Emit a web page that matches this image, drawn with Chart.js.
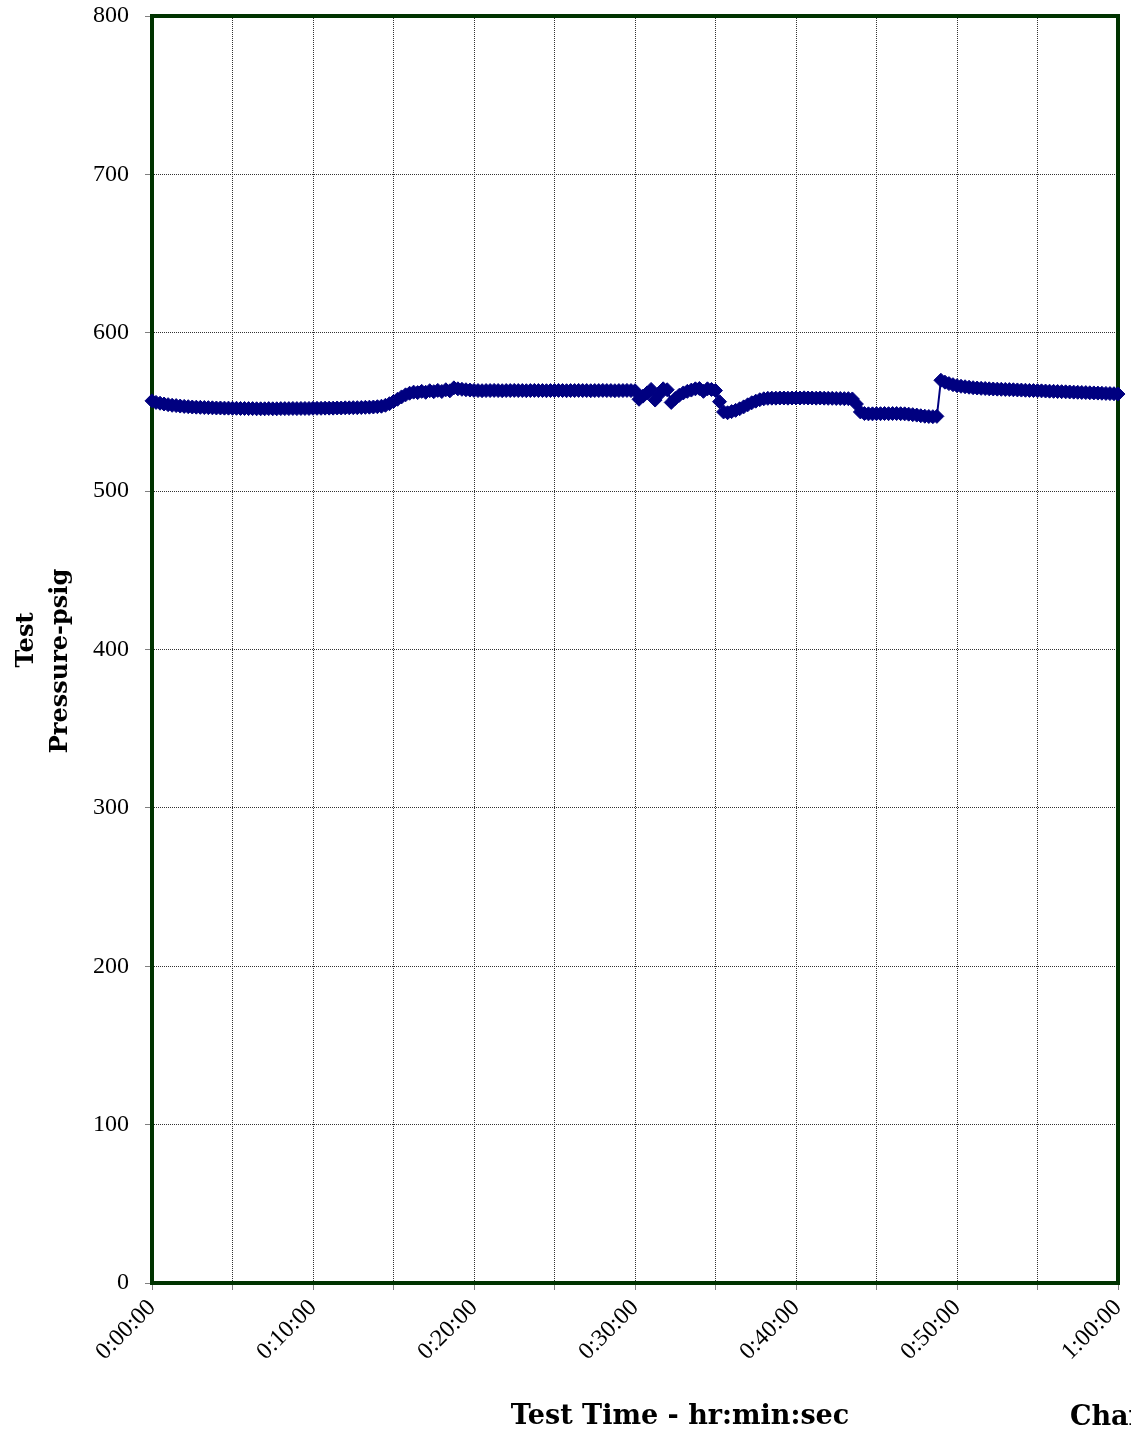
<!DOCTYPE html>
<html>
<head>
<meta charset="utf-8">
<script src="https://cdn.jsdelivr.net/npm/chart.js@4.4.1/dist/chart.umd.min.js"></script>
<style>
  html, body { margin: 0; padding: 0; background: #fff; }
  #wrap { width: 1131px; height: 1432px; }
</style>
</head>
<body>
<div id="wrap"><canvas id="chart" width="1131" height="1432"></canvas></div>
<script>
// readings taken every 15 seconds, grouped per 10 minutes of test time
const sampleInterval = 15; // seconds
const readings00 = [557.0, 556.0, 555.5, 555.0, 554.6, 554.2, 554.0, 553.7, 553.5, 553.3,
  553.1, 553.0, 552.9, 552.8, 552.7, 552.6, 552.5, 552.5, 552.4, 552.4,
  552.3, 552.3, 552.2, 552.2, 552.1, 552.1, 552.0, 552.0, 552.0, 552.1,
  552.0, 552.0, 552.1, 552.1, 552.1, 552.2, 552.1, 552.2, 552.2, 552.2];
const readings10 = [552.3, 552.3, 552.3, 552.4, 552.4, 552.4, 552.5, 552.5, 552.6, 552.6,
  552.7, 552.7, 552.8, 552.9, 553.0, 553.1, 553.3, 553.6, 554.2, 555.2,
  556.6, 558.0, 559.5, 560.8, 561.8, 562.5, 562.2, 563.0, 562.4, 563.4,
  562.8, 563.6, 562.9, 564.0, 563.3, 565.2, 564.6, 564.3, 564.0, 563.8];
const readings20 = [563.6, 563.5, 563.4, 563.5, 563.5, 563.6, 563.5, 563.4, 563.5, 563.5,
  563.6, 563.5, 563.5, 563.4, 563.5, 563.6, 563.5, 563.5, 563.4, 563.5,
  563.5, 563.6, 563.5, 563.4, 563.5, 563.5, 563.6, 563.5, 563.5, 563.4,
  563.5, 563.5, 563.6, 563.5, 563.5, 563.4, 563.5, 563.5, 563.6, 563.5];
const readings30 = [563.4, 558.0, 560.0, 562.0, 564.2, 557.5, 561.0, 564.6, 564.0, 556.0,
  558.5, 560.5, 562.0, 563.0, 563.8, 564.6, 564.8, 563.0, 564.6, 564.2,
  563.5, 556.5, 550.0, 549.5, 550.2, 551.0, 552.0, 553.2, 554.5, 555.8,
  556.8, 557.7, 558.3, 558.6, 558.7, 558.7, 558.8, 558.8, 558.7, 558.8];
const readings40 = [558.8, 558.8, 558.9, 558.8, 558.8, 558.7, 558.8, 558.7, 558.6, 558.6,
  558.5, 558.5, 558.4, 558.4, 558.2, 555.0, 550.0, 549.0, 548.8, 548.8,
  548.9, 548.9, 549.0, 548.9, 549.0, 549.0, 548.9, 548.8, 548.6, 548.3,
  548.0, 547.6, 547.3, 547.1, 547.0, 547.2, 570.0, 568.8, 567.9, 567.2];
const readings50 = [566.6, 566.2, 565.9, 565.6, 565.3, 565.1, 564.9, 564.8, 564.6, 564.5,
  564.4, 564.3, 564.2, 564.1, 564.0, 563.9, 563.8, 563.7, 563.6, 563.5,
  563.4, 563.3, 563.2, 563.1, 563.0, 562.9, 562.8, 562.7, 562.6, 562.5,
  562.4, 562.3, 562.2, 562.1, 562.0, 561.9, 561.8, 561.7, 561.6, 561.5];
const readings60 = [561.3];

const yTicks = [0, 100, 200, 300, 400, 500, 600, 700, 800];
const xLabelTimes = ['0:00:00', '0:10:00', '0:20:00', '0:30:00', '0:40:00', '0:50:00', '1:00:00'];

const xTitle = 'Test Time - hr:min:sec';
const yTitleLines = ['Test', 'Pressure-psig'];
const cornerText = 'Chart';

const pressure = [].concat(readings00, readings10, readings20, readings30, readings40, readings50, readings60);
const points = pressure.map((p, i) => ({ x: i * sampleInterval, y: p }));

const frameAndTitles = {
  id: 'frameAndTitles',
  beforeDatasetsDraw(chart) {
    const { ctx, chartArea: a } = chart;
    ctx.save();
    ctx.strokeStyle = '#003300';
    ctx.lineWidth = 4;
    ctx.strokeRect(a.left, a.top, a.right - a.left, a.bottom - a.top);
    ctx.restore();
  },
  afterDraw(chart) {
    const ctx = chart.ctx;
    ctx.save();
    ctx.fillStyle = '#000';
    ctx.font = 'bold 27px "DejaVu Serif"';
    ctx.textBaseline = 'alphabetic';
    ctx.textAlign = 'center';
    ctx.fillText(xTitle, 680, 1424);
    ctx.textAlign = 'left';
    ctx.fillText(cornerText, 1070, 1425);

    ctx.font = 'bold 24px "DejaVu Serif"';
    ctx.textAlign = 'center';
    ctx.save();
    ctx.translate(33, 640);
    ctx.rotate(-Math.PI / 2);
    ctx.fillText(yTitleLines[0], 0, 0);
    ctx.restore();
    ctx.save();
    ctx.translate(67, 661);
    ctx.rotate(-Math.PI / 2);
    ctx.fillText(yTitleLines[1], 0, 0);
    ctx.restore();
    ctx.restore();
  }
};

function fmtTime(sec) {
  const h = Math.floor(sec / 3600);
  const m = Math.floor((sec % 3600) / 60);
  const s = sec % 60;
  return h + ':' + String(m).padStart(2, '0') + ':' + String(s).padStart(2, '0');
}

const tickFont = { family: '"Liberation Serif", serif', size: 24 };

new Chart(document.getElementById('chart'), {
  type: 'line',
  data: {
    datasets: [{
      data: points,
      borderColor: '#000080',
      backgroundColor: '#000080',
      borderWidth: 2,
      pointStyle: 'rectRot',
      pointRadius: 7,
      pointBorderWidth: 1,
      pointBackgroundColor: '#000080',
      pointBorderColor: '#000080',
      tension: 0,
      clip: false
    }]
  },
  options: {
    responsive: false,
    animation: false,
    layout: { padding: { top: 16, right: 13, left: 0, bottom: 0 } },
    plugins: { legend: { display: false }, tooltip: { enabled: false } },
    scales: {
      x: {
        type: 'linear',
        min: 0,
        max: 3600,
        afterFit(scale) {
          scale.height = 149;
          scale.paddingLeft = 0;
          scale.paddingRight = 0;
        },
        afterBuildTicks(scale) {
          const t = [];
          for (let v = 0; v <= 3600; v += 300) t.push({ value: v });
          scale.ticks = t;
        },
        ticks: {
          autoSkip: false,
          minRotation: 45,
          maxRotation: 45,
          padding: 4,
          color: '#000',
          font: tickFont,
          callback(v) {
            const label = fmtTime(v);
            return xLabelTimes.includes(label) ? label : '';
          }
        },
        grid: {
          color: '#333',
          lineWidth: 1,
          drawTicks: true,
          tickLength: 7,
          tickColor: '#808080',
          tickBorderDash: []
        },
        border: { display: false, dash: [1, 1] }
      },
      y: {
        min: 0,
        max: 800,
        afterFit(scale) {
          scale.width = 152;
          scale.paddingTop = 0;
          scale.paddingBottom = 0;
        },
        afterBuildTicks(scale) { scale.ticks = yTicks.map(v => ({ value: v })); },
        ticks: { padding: 16, color: '#000', font: tickFont },
        grid: {
          color: '#333',
          lineWidth: 1,
          drawTicks: true,
          tickLength: 7,
          tickColor: '#808080',
          tickBorderDash: []
        },
        border: { display: false, dash: [1, 1] }
      }
    }
  },
  plugins: [frameAndTitles]
});
</script>
</body>
</html>
